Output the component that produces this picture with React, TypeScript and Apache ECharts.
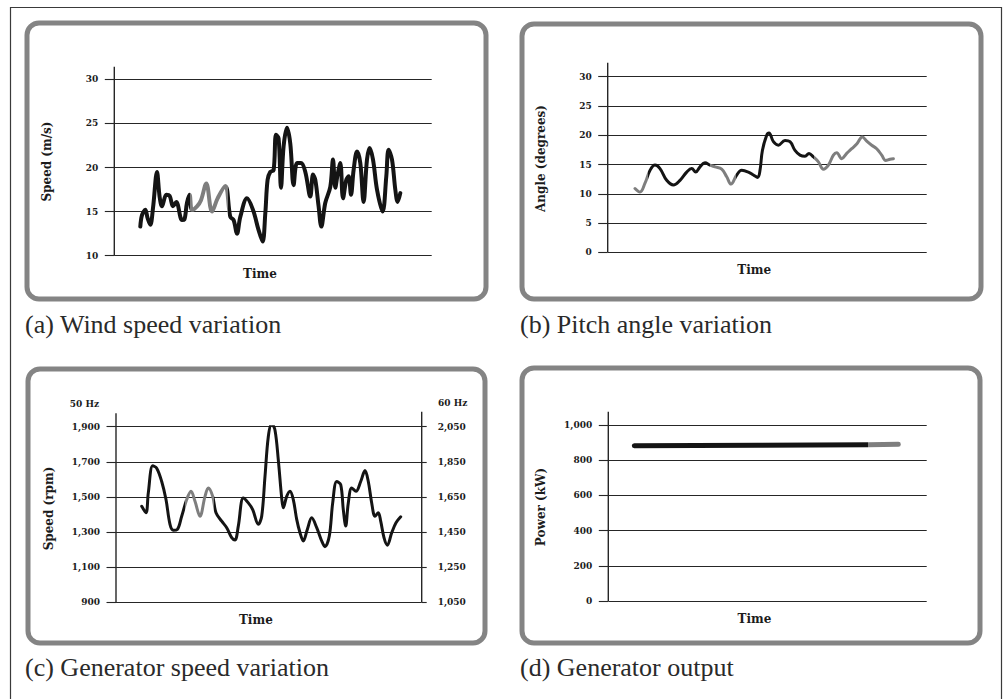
import React, { useEffect, useRef } from 'react';
import * as echarts from 'echarts';

// ---------- (a) Wind speed variation ----------
const windTime = [26, 27.7, 31, 33.3, 36, 38.7, 42.7, 45.3, 47.7, 52, 55.3, 58.7, 62, 67.7, 70, 72.7, 75.3,
  77.7, 82.7, 86.7, 92, 97.7, 103.3, 111, 116, 119.3, 122.7, 126, 132.7, 138.7, 144.3, 148.3, 151, 153.3,
  156, 159.3, 161.7, 164.3, 166.7, 169.3, 172.7, 176, 179.3, 182.7, 186.7, 191, 196, 198.7, 201, 204.3,
  207, 211, 216, 218.7, 221, 223.3, 226, 228.7, 232, 234.3, 236.7, 239.3, 242.7, 246, 249.3, 252.7, 255.3,
  258.7, 262.7, 268.3, 272, 274.3, 277.7, 281, 283.3, 286];
const windSpeed = [13.3, 14.6, 15.2, 14.25, 13.5, 15.4, 19.5, 16.7, 15.6, 16.9, 16.8, 15.6, 16.1, 14.05, 14.1, 16.0, 16.9,
  15.2, 15.6, 16.3, 18.2, 15.0, 16.5, 17.9, 14.4, 14.05, 12.5, 14.4, 16.5, 15.2, 12.9, 11.6, 14.8, 18.6,
  19.5, 19.7, 23.7, 23.3, 17.7, 22.4, 24.5, 22.7, 18.0, 20.5, 20.5, 19.5, 16.7, 19.2, 18.6, 15.6,
  13.3, 16.0, 17.8, 20.9, 17.7, 19.2, 20.5, 16.5, 18.6, 19.0, 16.9, 19.7, 21.8, 20.5, 16.1, 20.9, 22.2,
  20.9, 17.5, 15.0, 19.0, 22.0, 20.9, 17.5, 16.1, 17.1];
// colour changes (time at which the trace switches black <-> gray), first segment black
const windBreaks = [76, 114];
const windTicks = [10, 30, 5];

// ---------- (b) Pitch angle variation ----------
const pitchTime = [27.3, 32.3, 37.3, 42.3, 47.3, 52.3, 59, 65.7, 72.3, 79, 84, 88, 92.3, 97.3, 102.3, 107.3, 114,
  119, 123.3, 129, 134, 140.7, 145.7, 150, 152.3, 154.7, 159, 161.3, 165.7, 170.7, 177.3, 182.3, 187.3,
  192.3, 197.3, 201.3, 205.7, 210.7, 215.7, 220.7, 225.7, 229, 234, 239, 244, 249, 254.7, 259, 264, 269,
  274, 278, 282.3, 285.7];
const pitchAngle = [10.9, 10.3, 11.8, 14.0, 14.9, 14.3, 12.3, 11.5, 12.3, 13.7, 14.3, 13.7, 14.6, 15.3, 14.9, 14.6, 14.2,
  12.9, 11.65, 13.2, 14.0, 13.7, 13.2, 12.8, 14.0, 17.4, 20.0, 20.4, 18.9, 18.3, 19.1, 18.9, 17.4,
  16.6, 16.4, 16.9, 16.3, 15.45, 14.2, 14.9, 16.6, 17.0, 16.0, 16.9, 17.7, 18.5, 19.7, 19.0, 18.3, 17.7,
  16.6, 15.7, 15.9, 16.0];
// first segment gray
const pitchBreaks = [40, 102, 128, 206];
const pitchTicks = [0, 30, 5];

// ---------- (c) Generator speed variation ----------
const genTime = [25.7, 30, 32.3, 36.7, 40.7, 45.7, 50, 54, 57.3, 61.3, 65.7, 70.7, 75, 79, 84, 89, 92.3, 96.7,
  100, 105.7, 110.7, 115.7, 119, 122.3, 127.3, 132.3, 136.7, 142.3, 145.7, 149, 152.3, 155.7, 159, 162.3,
  165.7, 167.3, 170.7, 174, 177.3, 180.7, 184, 187.3, 191.3, 195.7, 200.7, 205.7, 209, 213.3, 216.7, 220.7,
  224.7, 227.3, 229.7, 232.3, 235.7, 240, 244.7, 249, 252.3, 255.7, 259, 262.3, 264.7, 268, 271.3, 275.7,
  280, 284.7];
const genSpeed = [1447, 1410, 1523, 1677, 1664, 1588, 1485, 1344, 1311, 1315, 1390, 1485, 1532, 1475, 1390, 1503, 1551, 1503,
  1410, 1362, 1325, 1268, 1255, 1334, 1494, 1466, 1428, 1344, 1390, 1617, 1843, 1918, 1880, 1711,
  1494, 1438, 1503, 1532, 1485, 1372, 1296, 1249, 1315, 1381, 1325, 1249, 1217, 1277, 1466, 1588,
  1570, 1428, 1334, 1466, 1551, 1532, 1588, 1650, 1588, 1466, 1390, 1410, 1362, 1268, 1225, 1296,
  1353, 1387];
const genBreaks = [69, 98];
const genTicks50 = [900, 1900, 200];
const genTicks60 = [1050, 2050, 200];

// ---------- (d) Generator output ----------
const powTime = [26, 150, 260, 290];
const powOutput = [882, 885, 888, 890];
const powBreaks = [260];
const powTicks = [0, 1000, 200];

const captions = ['(a) Wind speed variation', '(b) Pitch angle variation', '(c) Generator speed variation', '(d) Generator output'];

const BLACK = '#141414';
const GRAY = '#7e7e7e';
const GRID = '#262626';
const TXT = '#1c1c1c';
const LBL_FONT = 'DejaVu Serif';

const zip = (t: number[], v: number[]) => t.map((x, i) => [x, v[i]]);
const fmt = (v: number) => v.toLocaleString('en-US');

// layout (pixels)
const grids: any[] = [
  { left: 114.3, top: 79.3, width: 317.4, height: 176.4, axisTop: 66.7 },
  { left: 607.7, top: 76.7, width: 319, height: 175.6, axisTop: 62.7 },
  { left: 116, top: 426.7, width: 305.7, height: 175.6, axisTop: 413.3, rightTop: 411.7 },
  { left: 608.3, top: 425, width: 318.4, height: 176, axisTop: 411.7 },
];
const boxes = [
  { x: 27, y: 23, w: 459, h: 276 },
  { x: 522, y: 24, w: 459, h: 275 },
  { x: 28, y: 369, w: 457, h: 274 },
  { x: 522, y: 368, w: 458, h: 275 },
];

// horizontal gradient with hard stops at the colour breaks
function segmentedColor(time: number[], breaks: number[], startGray: boolean) {
  const t0 = Math.min(...time);
  const t1 = Math.max(...time);
  const stops: any[] = [];
  let gray = startGray;
  stops.push({ offset: 0, color: gray ? GRAY : BLACK });
  breaks.forEach((b) => {
    const o = Math.max(0, Math.min(1, (b - t0) / (t1 - t0)));
    stops.push({ offset: o, color: gray ? GRAY : BLACK });
    gray = !gray;
    stops.push({ offset: o, color: gray ? GRAY : BLACK });
  });
  stops.push({ offset: 1, color: gray ? GRAY : BLACK });
  return new echarts.graphic.LinearGradient(0, 0, 1, 0, stops);
}

function xAxisFor(i: number) {
  return {
    type: 'value', gridIndex: i, min: 0, max: grids[i].width,
    axisLine: { show: false }, axisTick: { show: false }, axisLabel: { show: false }, splitLine: { show: false },
    name: 'Time', nameLocation: 'middle', nameGap: 12,
    nameTextStyle: { fontFamily: LBL_FONT, fontWeight: 'bold', fontSize: 12, color: TXT, padding: [0, 26, 0, 0] },
  };
}

function yAxisFor(i: number, ticks: number[], name: string | null, position = 'left') {
  const ax: any = {
    type: 'value', gridIndex: i, position, min: ticks[0], max: ticks[1], interval: ticks[2],
    axisLine: { show: false },
    axisTick: { show: true, length: position === 'left' ? 9.5 : 5, lineStyle: { color: GRID, width: 1.1 } },
    axisLabel: {
      margin: 16, fontFamily: LBL_FONT, fontWeight: 'bold', fontSize: 9, color: TXT,
      formatter: (v: number) => fmt(v),
    },
    splitLine: { show: position === 'left', lineStyle: { color: GRID, width: 1.1 } },
  };
  if (name) {
    ax.name = name;
    ax.nameLocation = 'middle';
    ax.nameGap = 61;
    ax.nameRotate = 90;
    ax.nameTextStyle = { fontFamily: LBL_FONT, fontWeight: 'bold', fontSize: 12, color: TXT, padding: [0, 0, 0, 12] };
  }
  return ax;
}

function lineSeries(i: number, yIdx: number, time: number[], vals: number[], breaks: number[], startGray: boolean,
  width: number, smooth: number | boolean) {
  return {
    type: 'line', xAxisIndex: i, yAxisIndex: yIdx, data: zip(time, vals), showSymbol: false, smooth,
    lineStyle: { width, cap: 'round', join: 'round', color: segmentedColor(time, breaks, startGray) },
  };
}

export default function App() {
  const ref = useRef<HTMLDivElement>(null);
  useEffect(() => {
    if (!ref.current) return;
    const chart = echarts.init(ref.current, null, { renderer: 'svg' });

    const graphic: any[] = [];
    graphic.push({
      type: 'polyline', silent: true,
      shape: { points: [[10.5, 699], [10.5, 7.5], [1001.5, 7.5], [1001.5, 699]] },
      style: { stroke: '#3a3a3a', lineWidth: 1.2, fill: 'none' },
    });
    boxes.forEach((b) => graphic.push({
      type: 'rect', silent: true, z: -1,
      shape: { x: b.x, y: b.y, width: b.w, height: b.h, r: 12 },
      style: { fill: 'none', stroke: '#848484', lineWidth: 5 },
    }));
    grids.forEach((g: any) => {
      graphic.push({
        type: 'line', silent: true,
        shape: { x1: g.left, y1: g.axisTop, x2: g.left, y2: g.top + g.height },
        style: { stroke: GRID, lineWidth: 1.4 },
      });
      if (g.rightTop) {
        graphic.push({
          type: 'line', silent: true,
          shape: { x1: g.left + g.width, y1: g.rightTop, x2: g.left + g.width, y2: g.top + g.height },
          style: { stroke: GRID, lineWidth: 1.4 },
        });
      }
    });
    graphic.push({
      type: 'text', silent: true, x: 99, y: 404,
      style: { text: '50 Hz', fontFamily: LBL_FONT, fontWeight: 'bold', fontSize: 9, fill: TXT, align: 'right', verticalAlign: 'middle' },
    });
    graphic.push({
      type: 'text', silent: true, x: 438, y: 403,
      style: { text: '60 Hz', fontFamily: LBL_FONT, fontWeight: 'bold', fontSize: 9, fill: TXT, align: 'left', verticalAlign: 'middle' },
    });
    const capPos = [[25, 324], [520, 324], [25, 667], [520, 667]];
    captions.forEach((c, i) => graphic.push({
      type: 'text', silent: true, x: capPos[i][0], y: capPos[i][1],
      style: { text: c, fontFamily: 'Liberation Serif', fontSize: 26, fill: '#2a2a2a', align: 'left', verticalAlign: 'middle' },
    }));

    chart.setOption({
      animation: false,
      backgroundColor: '#ffffff',
      grid: grids.map((g) => ({ left: g.left, top: g.top, width: g.width, height: g.height, containLabel: false })),
      xAxis: [0, 1, 2, 3].map(xAxisFor),
      yAxis: [
        yAxisFor(0, windTicks, 'Speed (m/s)'),
        yAxisFor(1, pitchTicks, 'Angle (degrees)'),
        yAxisFor(2, genTicks50, 'Speed (rpm)'),
        yAxisFor(2, genTicks60, null, 'right'),
        yAxisFor(3, powTicks, 'Power (kW)'),
      ],
      series: [
        lineSeries(0, 0, windTime, windSpeed, windBreaks, false, 4, 0.35),
        lineSeries(1, 1, pitchTime, pitchAngle, pitchBreaks, true, 3, 0.4),
        lineSeries(2, 2, genTime, genSpeed, genBreaks, false, 3, 0.35),
        lineSeries(3, 4, powTime, powOutput, powBreaks, false, 5, false),
      ],
      graphic,
    });
    return () => chart.dispose();
  }, []);
  return <div ref={ref} style={{ position: 'fixed', left: 0, top: 0, width: 1004, height: 699, background: '#fff' }} />;
}
